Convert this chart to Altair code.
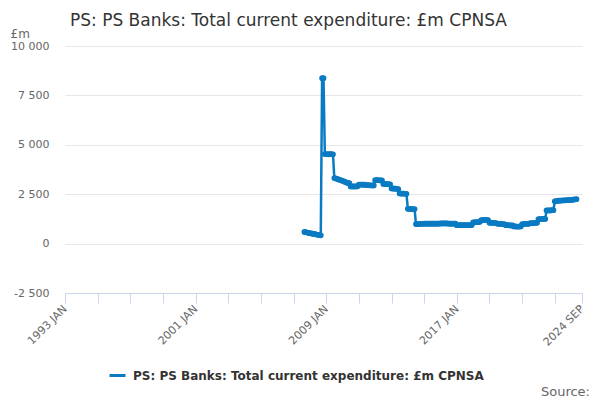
import altair as alt
import pandas as pd

TITLE = "PS: PS Banks: Total current expenditure: £m CPNSA"
SERIES = "PS: PS Banks: Total current expenditure: £m CPNSA"
SOURCE = "Source:"
FIRST_MONTH = "2007-09-01"

values = [
    # 2007 SEP-DEC
    590, 575, 560, 545,
    # 2008
    530, 515, 500, 490, 475, 460, 445, 430, 420, 8370, 8370, 4530,
    # 2009
    4530, 4530, 4520, 4530, 4530, 4520, 3320, 3300, 3280, 3250, 3230, 3200,
    # 2010
    3180, 3150, 3120, 3090, 3070, 3060, 2890, 2890, 2890, 2890, 2890, 2900,
    # 2011
    2980, 2990, 2990, 2980, 2980, 2970, 2960, 2960, 2950, 2950, 2945, 2945,
    # 2012
    3210, 3210, 3210, 3200, 3200, 3200, 3020, 3020, 3010, 3010, 3010, 3000,
    # 2013
    2790, 2790, 2780, 2780, 2770, 2760, 2540, 2530, 2530, 2530, 2520, 2520,
    # 2014
    1760, 1760, 1760, 1750, 1750, 1750, 990, 990, 990, 1000, 1000, 1000,
    # 2015
    1010, 1010, 1010, 1010, 1010, 1010, 1010, 1010, 1010, 1010, 1010, 1010,
    # 2016
    1020, 1020, 1020, 1020, 1020, 1020, 1010, 1010, 1010, 1010, 1010, 1010,
    # 2017
    930, 930, 930, 930, 930, 930, 930, 930, 940, 940, 940, 940,
    # 2018
    1080, 1080, 1090, 1090, 1090, 1100, 1190, 1190, 1200, 1200, 1190, 1190,
    # 2019
    1050, 1050, 1050, 1050, 1040, 1040, 1000, 1000, 1000, 990, 990, 990,
    # 2020
    930, 930, 930, 920, 920, 920, 870, 870, 860, 860, 860, 870,
    # 2021
    990, 990, 1000, 1000, 1000, 1000, 1040, 1040, 1040, 1040, 1050, 1050,
    # 2022
    1240, 1240, 1240, 1250, 1250, 1250, 1680, 1680, 1680, 1680, 1690, 1690,
    # 2023
    2140, 2150, 2160, 2170, 2180, 2180, 2190, 2190, 2190, 2200, 2200, 2200,
    # 2024 JAN-MAY
    2210, 2220, 2230, 2240, 2250,
]

tick_years = [1993, 1995, 1997, 1999, 2001, 2003, 2005, 2007, 2009, 2011,
              2013, 2015, 2017, 2019, 2021, 2023]
labelled = ["1993 JAN", "2001 JAN", "2009 JAN", "2017 JAN", "2024 SEP"]
y_ticks = [-2500, 0, 2500, 5000, 7500, 10000]

months = pd.date_range(start=FIRST_MONTH, periods=len(values), freq="MS").strftime("%Y-%m-%d")
df = pd.DataFrame({"month": list(months), "value": values, "series": SERIES})

FONT = "DejaVu Sans"
BLUE = "#0a7bc2"

x_values = [alt.DateTime(year=y, month=1, date=1, utc=True) for y in tick_years]
x_values.append(alt.DateTime(year=2024, month=9, date=1, utc=True))

label_list = "[" + ",".join("'%s'" % s for s in labelled) + "]"
x_label_expr = (
    "indexof(" + label_list + ", upper(utcFormat(datum.value, '%Y %b'))) >= 0 ? "
    "upper(utcFormat(datum.value, '%Y %b')) : ''"
)

line = alt.Chart(df).mark_line(
    color=BLUE, strokeWidth=2.5,
    point=alt.OverlayMarkDef(filled=True, size=14, color=BLUE),
).encode(
    x=alt.X(
        "month:T",
        scale=alt.Scale(
            type="utc",
            domain=[alt.DateTime(year=1993, month=1, date=1, utc=True),
                    alt.DateTime(year=2024, month=9, date=1, utc=True)],
        ),
        axis=alt.Axis(
            values=x_values,
            labelExpr=x_label_expr,
            labelAngle=-45,
            labelAlign="right",
            labelBaseline="middle",
            labelPadding=4,
            labelFontSize=11,
            labelColor="#666666",
            labelFont=FONT,
            labelOverlap=False,
            tickSize=10,
            tickColor="#ccd6eb",
            domainColor="#ccd6eb",
            grid=False,
            title=None,
        ),
    ),
    y=alt.Y(
        "value:Q",
        scale=alt.Scale(domain=[-2500, 10000], nice=False, zero=False),
        axis=alt.Axis(
            values=y_ticks,
            labelExpr="replace(replace(format(datum.value, ','), ',', ' '), '\u2212', '-')",
            labelFontSize=11,
            labelColor="#666666",
            labelFont=FONT,
            labelPadding=16,
            domain=False,
            ticks=False,
            grid=True,
            gridColor="#e6e6e6",
            title="£m",
            titleAngle=0,
            titleAlign="left",
            titleBaseline="alphabetic",
            titleX=-55,
            titleY=-9,
            titleFont=FONT,
            titleFontSize=12,
            titleFontWeight="normal",
            titleColor="#666666",
        ),
    ),
    stroke=alt.Stroke(
        "series:N",
        scale=alt.Scale(range=[BLUE]),
        legend=alt.Legend(
            title=None,
            orient="none",
            legendX=43,
            legendY=320,
            symbolType="stroke",
            symbolSize=256,
            symbolStrokeWidth=3,
            labelFont=FONT,
            labelFontSize=12,
            labelFontWeight="bold",
            labelColor="#333333",
            labelOffset=6,
            labelLimit=0,
        ),
    ),
)

source = alt.Chart(pd.DataFrame({"t": [SOURCE]})).mark_text(
    align="right", baseline="middle", font=FONT, fontSize=13, color="#666666"
).encode(
    x=alt.value(525),
    y=alt.value(346),
    text="t:N",
)

chart = alt.layer(line, source).properties(
    width=517,
    height=247,
    autosize=alt.AutoSizeParams(type="none"),
    padding={"left": 57, "top": 38, "right": 10, "bottom": 106},
    title=alt.TitleParams(
        TITLE,
        anchor="start",
        dx=5,
        dy=7,
        font=FONT,
        fontSize=17,
        fontWeight="normal",
        color="#333333",
        frame="group",
    ),
).configure_view(stroke=None)

chart.save("out.html", embed_options={"renderer": "svg", "actions": False})
